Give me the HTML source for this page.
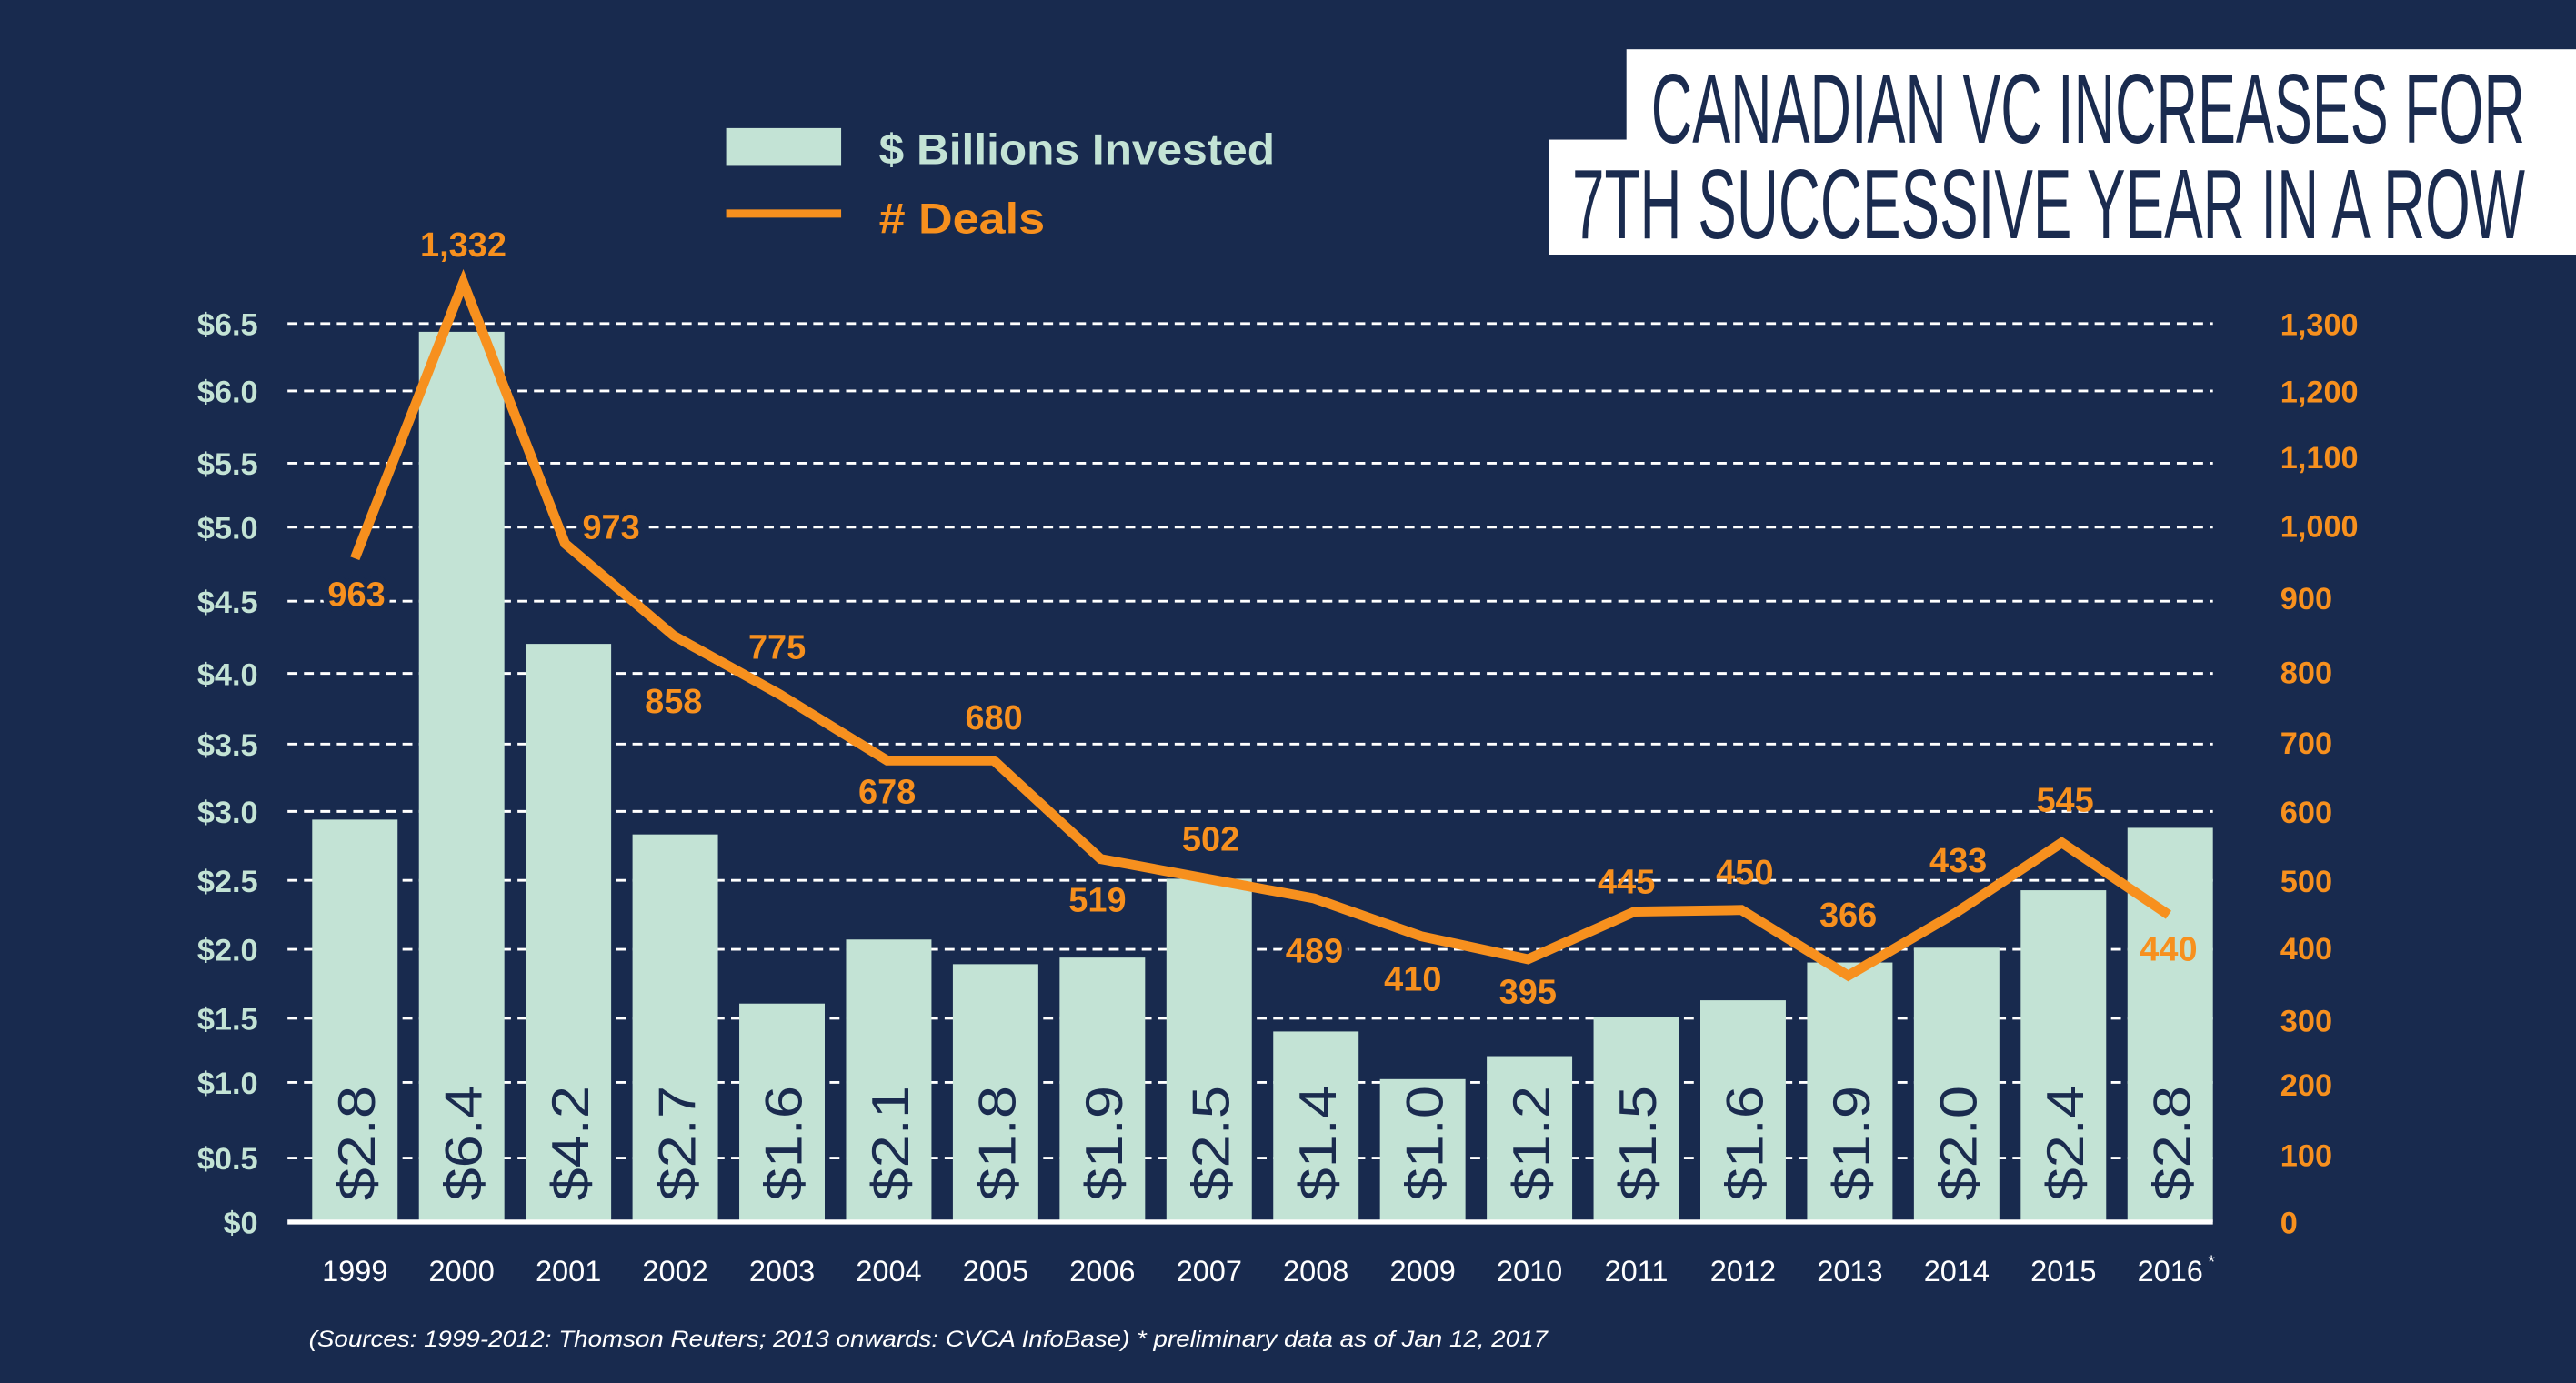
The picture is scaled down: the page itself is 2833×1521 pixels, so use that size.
<!DOCTYPE html>
<html><head><meta charset="utf-8"><style>
html,body{margin:0;padding:0;background:#182a4e;}
svg{display:block;}
text{font-family:"Liberation Sans",sans-serif;}
</style></head><body>
<svg width="2833" height="1521" viewBox="0 0 1568 842" preserveAspectRatio="none" xmlns="http://www.w3.org/2000/svg">
<rect width="1568" height="842" fill="#182a4e"/>
<rect x="990" y="30" width="578" height="56" fill="#fff"/>
<rect x="943" y="85" width="625" height="70" fill="#fff"/>
<text x="1005" y="87" font-size="60" fill="#1a2b4f" textLength="532" lengthAdjust="spacingAndGlyphs">CANADIAN VC INCREASES FOR</text>
<text x="957" y="145" font-size="60" fill="#1a2b4f" textLength="580" lengthAdjust="spacingAndGlyphs">7TH SUCCESSIVE YEAR IN A ROW</text>
<rect x="442" y="78" width="70" height="23" fill="#c3e3d5"/>
<text x="535" y="100" font-size="26" font-weight="bold" fill="#c3e3d5" textLength="241" lengthAdjust="spacingAndGlyphs">$ Billions Invested</text>
<line x1="442" y1="130" x2="512" y2="130" stroke="#f7901e" stroke-width="5"/>
<text x="535" y="142" font-size="26" font-weight="bold" fill="#f7901e" textLength="101" lengthAdjust="spacingAndGlyphs"># Deals</text>
<g stroke="#fff" stroke-width="1.6" stroke-dasharray="6,4">
<line x1="175" x2="1347" y1="197" y2="197"/><line x1="175" x2="1347" y1="238" y2="238"/>
<line x1="175" x2="1347" y1="282" y2="282"/><line x1="175" x2="1347" y1="321" y2="321"/>
<line x1="175" x2="1347" y1="366" y2="366"/><line x1="175" x2="1347" y1="410" y2="410"/>
<line x1="175" x2="1347" y1="453" y2="453"/><line x1="175" x2="1347" y1="494" y2="494"/>
<line x1="175" x2="1347" y1="536" y2="536"/><line x1="175" x2="1347" y1="578" y2="578"/>
<line x1="175" x2="1347" y1="620" y2="620"/><line x1="175" x2="1347" y1="659" y2="659"/>
<line x1="175" x2="1347" y1="705" y2="705"/>
</g>
<g font-size="19" font-weight="bold" fill="#c3e3d5" text-anchor="end">
<text x="157" y="204">$6.5</text><text x="157" y="245">$6.0</text><text x="157" y="289">$5.5</text>
<text x="157" y="328">$5.0</text><text x="157" y="373">$4.5</text><text x="157" y="417">$4.0</text>
<text x="157" y="460">$3.5</text><text x="157" y="501">$3.0</text><text x="157" y="543">$2.5</text>
<text x="157" y="585">$2.0</text><text x="157" y="627">$1.5</text><text x="157" y="666">$1.0</text>
<text x="157" y="712">$0.5</text><text x="157" y="751">$0</text>
</g>
<g font-size="19" font-weight="bold" fill="#f7901e">
<text x="1388" y="204">1,300</text><text x="1388" y="245">1,200</text><text x="1388" y="285">1,100</text>
<text x="1388" y="327">1,000</text><text x="1388" y="371">900</text><text x="1388" y="416">800</text>
<text x="1388" y="459">700</text><text x="1388" y="501">600</text><text x="1388" y="543">500</text>
<text x="1388" y="584">400</text><text x="1388" y="628">300</text><text x="1388" y="667">200</text>
<text x="1388" y="710">100</text><text x="1388" y="751">0</text>
</g>
<g fill="#c3e3d5">
<rect x="190" y="499" width="52" height="245"/><rect x="255" y="202" width="52" height="542"/>
<rect x="320" y="392" width="52" height="352"/><rect x="385" y="508" width="52" height="236"/>
<rect x="450" y="611" width="52" height="133"/><rect x="515" y="572" width="52" height="172"/>
<rect x="580" y="587" width="52" height="157"/><rect x="645" y="583" width="52" height="161"/>
<rect x="710" y="535" width="52" height="209"/><rect x="775" y="628" width="52" height="116"/>
<rect x="840" y="657" width="52" height="87"/><rect x="905" y="643" width="52" height="101"/>
<rect x="970" y="619" width="52" height="125"/><rect x="1035" y="609" width="52" height="135"/>
<rect x="1100" y="586" width="52" height="158"/><rect x="1165" y="577" width="52" height="167"/>
<rect x="1230" y="542" width="52" height="202"/><rect x="1295" y="504" width="52" height="240"/>
</g>
<line x1="175" y1="744" x2="1347" y2="744" stroke="#fff" stroke-width="3"/>
<g font-size="32" fill="#1a2b4f">
<text transform="translate(228,731) rotate(-90)" textLength="70" lengthAdjust="spacingAndGlyphs">$2.8</text>
<text transform="translate(293,731) rotate(-90)" textLength="70" lengthAdjust="spacingAndGlyphs">$6.4</text>
<text transform="translate(358,731) rotate(-90)" textLength="70" lengthAdjust="spacingAndGlyphs">$4.2</text>
<text transform="translate(423,731) rotate(-90)" textLength="70" lengthAdjust="spacingAndGlyphs">$2.7</text>
<text transform="translate(488,731) rotate(-90)" textLength="70" lengthAdjust="spacingAndGlyphs">$1.6</text>
<text transform="translate(553,731) rotate(-90)" textLength="70" lengthAdjust="spacingAndGlyphs">$2.1</text>
<text transform="translate(618,731) rotate(-90)" textLength="70" lengthAdjust="spacingAndGlyphs">$1.8</text>
<text transform="translate(683,731) rotate(-90)" textLength="70" lengthAdjust="spacingAndGlyphs">$1.9</text>
<text transform="translate(748,731) rotate(-90)" textLength="70" lengthAdjust="spacingAndGlyphs">$2.5</text>
<text transform="translate(813,731) rotate(-90)" textLength="70" lengthAdjust="spacingAndGlyphs">$1.4</text>
<text transform="translate(878,731) rotate(-90)" textLength="70" lengthAdjust="spacingAndGlyphs">$1.0</text>
<text transform="translate(943,731) rotate(-90)" textLength="70" lengthAdjust="spacingAndGlyphs">$1.2</text>
<text transform="translate(1008,731) rotate(-90)" textLength="70" lengthAdjust="spacingAndGlyphs">$1.5</text>
<text transform="translate(1073,731) rotate(-90)" textLength="70" lengthAdjust="spacingAndGlyphs">$1.6</text>
<text transform="translate(1138,731) rotate(-90)" textLength="70" lengthAdjust="spacingAndGlyphs">$1.9</text>
<text transform="translate(1203,731) rotate(-90)" textLength="70" lengthAdjust="spacingAndGlyphs">$2.0</text>
<text transform="translate(1268,731) rotate(-90)" textLength="70" lengthAdjust="spacingAndGlyphs">$2.4</text>
<text transform="translate(1333,731) rotate(-90)" textLength="70" lengthAdjust="spacingAndGlyphs">$2.8</text>
</g>
<polyline fill="none" stroke="#f7901e" stroke-width="6" stroke-linejoin="miter"
points="216,340 282,172 344,331 410,387 475,423 540,463 605,463 670,523 735,535 800,547 865,570 930,584 995,555 1060,554 1125,594 1190,556 1255,513 1320,557"/>
<g font-size="21" font-weight="bold" fill="#f7901e" text-anchor="middle">
<g stroke="#182a4e" stroke-width="7" paint-order="stroke">
<text x="217" y="369">963</text><text x="372" y="328">973</text>
<text x="800" y="586">489</text><text x="860" y="603">410</text>
</g>
<text x="282" y="156">1,332</text>
<text x="410" y="434">858</text><text x="473" y="401">775</text><text x="540" y="489">678</text>
<text x="605" y="444">680</text><text x="668" y="555">519</text><text x="737" y="518">502</text>
<text x="930" y="611">395</text>
<text x="990" y="544">445</text><text x="1062" y="538">450</text><text x="1125" y="564">366</text>
<text x="1192" y="531">433</text><text x="1257" y="494">545</text><text x="1320" y="585">440</text>
</g>
<g font-size="18" fill="#fff" text-anchor="middle">
<text x="216" y="780">1999</text><text x="281" y="780">2000</text><text x="346" y="780">2001</text>
<text x="411" y="780">2002</text><text x="476" y="780">2003</text><text x="541" y="780">2004</text>
<text x="606" y="780">2005</text><text x="671" y="780">2006</text><text x="736" y="780">2007</text>
<text x="801" y="780">2008</text><text x="866" y="780">2009</text><text x="931" y="780">2010</text>
<text x="996" y="780">2011</text><text x="1061" y="780">2012</text><text x="1126" y="780">2013</text>
<text x="1191" y="780">2014</text><text x="1256" y="780">2015</text><text x="1321" y="780">2016</text>
</g>
<text x="1344" y="772" font-size="11" fill="#fff">*</text>
<text x="188" y="820" font-size="14" font-style="italic" fill="#fff" textLength="754" lengthAdjust="spacingAndGlyphs">(Sources: 1999-2012: Thomson Reuters; 2013 onwards: CVCA InfoBase)  * preliminary data as of Jan 12, 2017</text>
</svg>
</body></html>
